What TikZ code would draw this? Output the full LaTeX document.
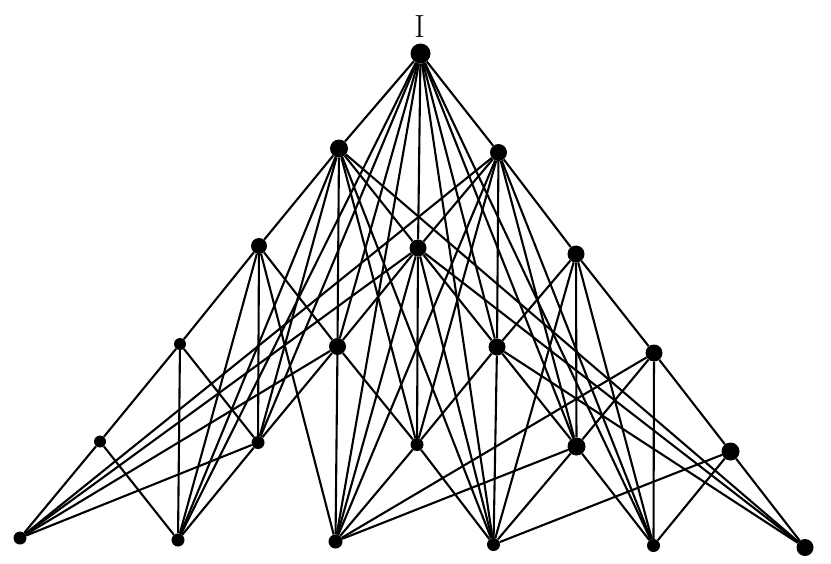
\documentclass[tikz,border=0pt]{standalone}
\usepackage{fontspec}
\begin{document}
\begin{tikzpicture}[x=1pt,y=-1pt]
\useasboundingbox (0,0) rectangle (831,563);
\tikzset{
  dot/.style={circle,fill=black,draw=none,inner sep=0pt,minimum size=#1},
  edge/.style={line width=2.1pt,black},
  toplabel/.style={inner sep=0pt,font=\fontsize{32}{32}\selectfont}
}
% nodes
\node[dot=20pt] (I)  at (420.5,53.5) {};
\node[dot=18pt] (a1) at (339,148.5) {};
\node[dot=17pt] (a2) at (498.5,152.5) {};
\node[dot=16pt] (b1) at (259,246) {};
\node[dot=17pt] (b2) at (418,248) {};
\node[dot=17pt] (b3) at (576,254) {};
\node[dot=12pt] (c1) at (180,344) {};
\node[dot=17pt] (c2) at (337.5,346.5) {};
\node[dot=17pt] (c3) at (497,347) {};
\node[dot=17pt] (c4) at (654,353) {};
\node[dot=12pt] (d1) at (100,441.5) {};
\node[dot=13pt] (d2) at (258,442.5) {};
\node[dot=13pt] (d3) at (417,444.5) {};
\node[dot=18pt] (d4) at (576.5,446.5) {};
\node[dot=18pt] (d5) at (730.5,451.5) {};
\node[dot=13pt] (e1) at (20,538) {};
\node[dot=13pt] (e2) at (178,540) {};
\node[dot=14pt] (e3) at (335.5,541.5) {};
\node[dot=13pt] (e4) at (493.5,544.5) {};
\node[dot=13pt] (e5) at (653.5,545.5) {};
\node[dot=17pt] (e6) at (805,547.5) {};
% label
\node[toplabel] (lab) at (419.5,27) {I};
% connectors
\foreach \p/\q in {
  e1/d1, e1/d2, e1/c2, e1/b2, e1/a2,
  e2/d1, e2/d2, e2/c1, e2/b1, e2/a1, e2/I,
  e3/d3, e3/d4, e3/c2, e3/c4, e3/b1, e3/b2, e3/a2, e3/I,
  e4/d3, e4/d4, e4/d5, e4/c3, e4/b2, e4/b3, e4/a1, e4/I,
  e5/d4, e5/d5, e5/c4, e5/b3, e5/a2, e5/I,
  e6/d5, e6/c3, e6/b2, e6/a1,
  d1/c1,
  d2/c1, d2/c2, d2/b1, d2/a1, d2/I,
  d3/c2, d3/c3, d3/b2, d3/a1, d3/a2,
  d4/c3, d4/c4, d4/b3, d4/a2, d4/I,
  d5/c4,
  c1/b1,
  c2/b1, c2/b2, c2/a1, c2/I,
  c3/b2, c3/b3, c3/a2, c3/I,
  c4/b3,
  b1/a1,
  b2/a1, b2/a2, b2/I,
  b3/a2,
  a1/I, a2/I}
  \draw[edge] (\p) -- (\q);
\end{tikzpicture}
\end{document}
